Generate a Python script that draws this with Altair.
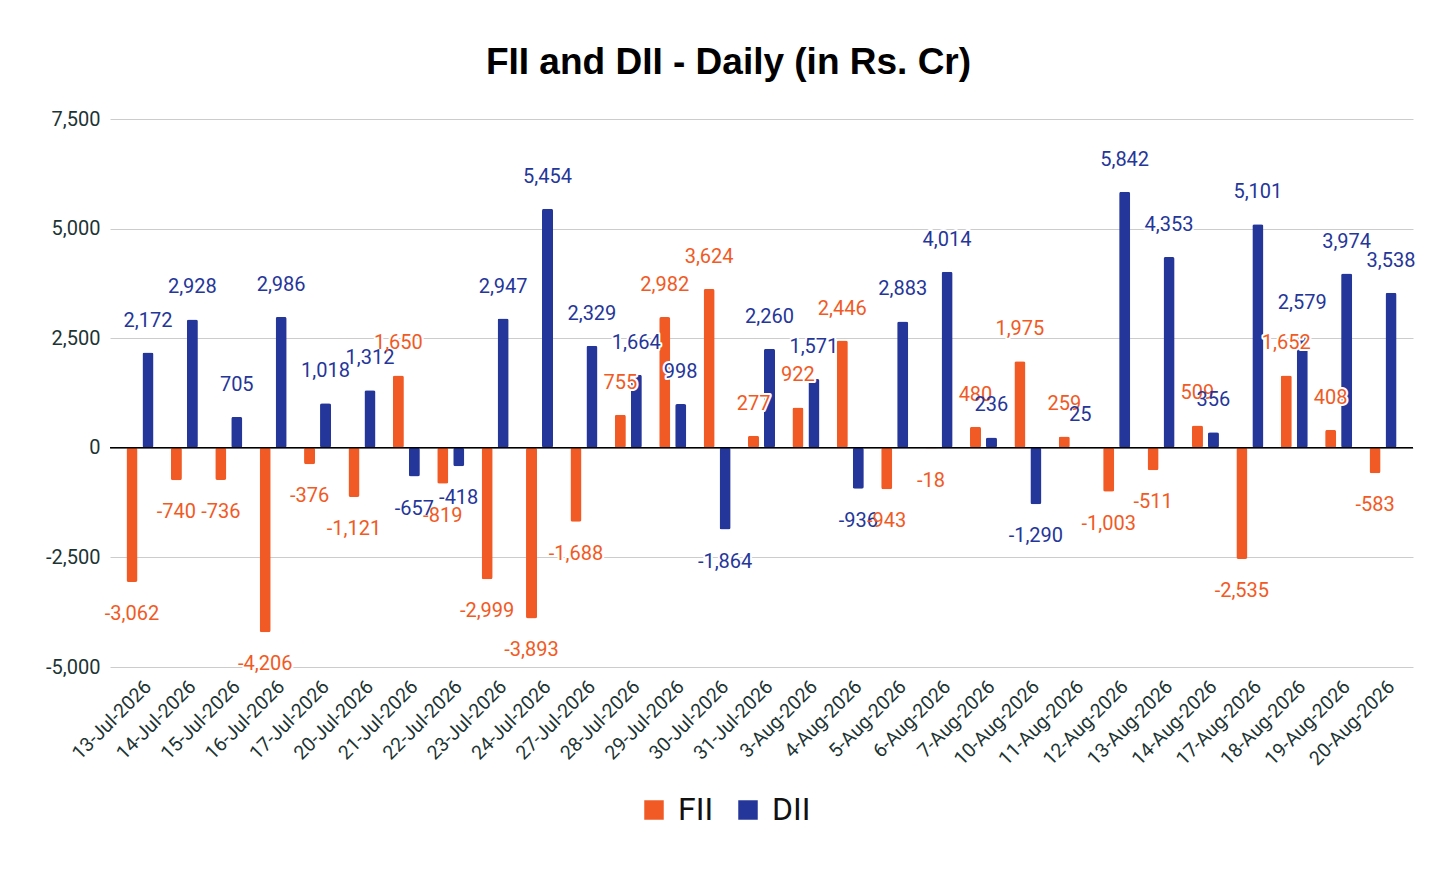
import altair as alt
import pandas as pd

dates = ["13-Jul-2026", "14-Jul-2026", "15-Jul-2026", "16-Jul-2026", "17-Jul-2026",
         "20-Jul-2026", "21-Jul-2026", "22-Jul-2026", "23-Jul-2026", "24-Jul-2026",
         "27-Jul-2026", "28-Jul-2026", "29-Jul-2026", "30-Jul-2026", "31-Jul-2026",
         "3-Aug-2026", "4-Aug-2026", "5-Aug-2026", "6-Aug-2026", "7-Aug-2026",
         "10-Aug-2026", "11-Aug-2026", "12-Aug-2026", "13-Aug-2026", "14-Aug-2026",
         "17-Aug-2026", "18-Aug-2026", "19-Aug-2026", "20-Aug-2026"]
fii = [-3062, -740, -736, -4206, -376, -1121, 1650, -819, -2999, -3893,
       -1688, 755, 2982, 3624, 277, 922, 2446, -943, -18, 480,
       1975, 259, -1003, -511, 509, -2535, 1652, 408, -583]
dii = [2172, 2928, 705, 2986, 1018, 1312, -657, -418, 2947, 5454,
       2329, 1664, 998, -1864, 2260, 1571, -936, 2883, 4014, 236,
       -1290, 25, 5842, 4353, 356, 5101, 2579, 3974, 3538]
series = ["FII", "DII"]
colors = ["#F15A24", "#25369A"]

rows = []
for i, d in enumerate(dates):
    rows.append({"date": d, "series": "FII", "value": fii[i], "label": f"{fii[i]:,}"})
    rows.append({"date": d, "series": "DII", "value": dii[i], "label": f"{dii[i]:,}"})
df = pd.DataFrame(rows)

FONT = "Roboto"
LBL = 20

x = alt.X("date:N", sort=dates, title=None,
          scale=alt.Scale(paddingInner=0.28, paddingOuter=0.315),
          axis=alt.Axis(labelAngle=-45, labelFontSize=19.5, labelColor="#1d3434",
                        labelFont=FONT, ticks=False, domain=False, labelPadding=10,
                        labelOffset=2))
xo = alt.XOffset("series:N", sort=series,
                 scale=alt.Scale(paddingInner=0.31, paddingOuter=0.155))
y = alt.Y("value:Q", title=None,
          scale=alt.Scale(domain=[-5000, 7500], nice=False),
          axis=alt.Axis(values=[-5000, -2500, 0, 2500, 5000, 7500],
                        labelExpr="replace(format(datum.value, ','), '\u2212', '-')",
                        labelFontSize=20, labelColor="#1d3434", labelFont=FONT,
                        ticks=False, domain=False, gridColor="#cccccc",
                        labelPadding=10))
color = alt.Color("series:N", sort=series,
                  scale=alt.Scale(domain=series, range=colors),
                  legend=alt.Legend(title=None, orient="none", legendX=528, legendY=675,
                                    direction="horizontal", symbolType="square",
                                    symbolSize=380, labelFontSize=32, labelFont=FONT,
                                    labelColor="#111111", columnPadding=18,
                                    labelOffset=8, symbolStrokeWidth=0))

base = alt.Chart(df)

bars = base.mark_bar(cornerRadius=2).encode(x=x, xOffset=xo, y=y, color=color)

pos = base.transform_filter("datum.value >= 0")
neg = base.transform_filter("datum.value < 0")

def lbl(src, dy, halo):
    if halo:
        m = src.mark_text(dy=dy, fontSize=LBL, font=FONT, baseline="middle",
                          stroke="white", strokeWidth=4, strokeJoin="round", fill="white")
        return m.encode(x=x, xOffset=xo, y=y, text="label:N")
    m = src.mark_text(dy=dy, fontSize=LBL, font=FONT, baseline="middle")
    return m.encode(x=x, xOffset=xo, y=y, text="label:N",
                    color=alt.Color("series:N", sort=series,
                                    scale=alt.Scale(domain=series, range=colors),
                                    legend=None))

zero = alt.Chart(pd.DataFrame({"v": [0]})).mark_rule(color="#000000", strokeWidth=1.5).encode(
    y=alt.Y("v:Q", scale=alt.Scale(domain=[-5000, 7500], nice=False)))

chart = alt.layer(
    bars, zero,
    lbl(pos, -32, True), lbl(neg, 32, True),
    lbl(pos, -32, False), lbl(neg, 32, False),
).properties(
    width=1303, height=548,
    title=alt.TitleParams("FII and DII - Daily (in Rs. Cr)", fontSize=37,
                          font="Liberation Sans", fontWeight="bold", color="#000000",
                          anchor="middle", offset=27, dx=-33),
    autosize=alt.AutoSizeParams(type="none"),
    padding={"left": 102, "top": 111, "right": 35, "bottom": 195},
).configure_view(stroke=None)

chart.save("out.html", embed_options={"renderer": "svg", "actions": False})
